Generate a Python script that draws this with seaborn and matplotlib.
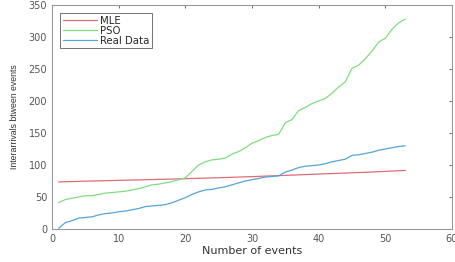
import pandas as pd
import matplotlib
matplotlib.use('Agg')
import matplotlib.pyplot as plt
import seaborn as sns

# values
events = list(range(1, 54))
mle = [73.5, 73.8, 74.1, 74.4, 74.7, 75.0, 75.2, 75.5, 75.7, 76.0,
       76.2, 76.5, 76.7, 77.0, 77.2, 77.5, 77.7, 78.0, 78.3, 78.6,
       78.9, 79.2, 79.5, 79.8, 80.1, 80.4, 80.8, 81.1, 81.5, 81.8,
       82.2, 82.6, 83.0, 83.4, 83.8, 84.2, 84.6, 85.0, 85.4, 85.8,
       86.2, 86.6, 87.0, 87.4, 87.8, 88.2, 88.6, 89.0, 89.5, 90.0,
       90.5, 91.0, 91.5]
pso = [41, 46, 48, 50, 52, 52, 54, 56, 57, 58,
       59, 61, 63, 66, 69, 70, 72, 74, 77, 80,
       90, 100, 105, 108, 109, 111, 117, 121, 127, 134,
       138, 143, 146, 148, 166, 171, 185, 190, 196, 200,
       204, 212, 222, 230, 251, 256, 266, 278, 292, 298,
       312, 322, 328]
real = [1, 10, 13, 17, 18, 19, 22, 24, 25, 27,
        28, 30, 32, 35, 36, 37, 38, 41, 45, 49,
        54, 58, 61, 62, 64, 66, 69, 72, 75, 77,
        79, 81, 82, 83, 89, 92, 96, 98, 99, 100,
        102, 105, 107, 109, 115, 116, 118, 120, 123, 125,
        127, 129, 130]

df = pd.DataFrame({'event': events * 3,
                   'value': mle + pso + real,
                   'series': ['MLE'] * 53 + ['PSO'] * 53 + ['Real Data'] * 53})

sns.set_style('white')
plt.rcParams['font.family'] = ['DejaVu Sans']

fig = plt.figure(figsize=(4.55, 2.62), dpi=100)
ax = fig.add_axes([0.1143, 0.126, 0.879, 0.855])

palette = {'MLE': '#dc6e78', 'PSO': '#80dc80', 'Real Data': '#55a5d8'}
sns.lineplot(data=df, x='event', y='value', hue='series', palette=palette,
             linewidth=0.9, ax=ax)

ax.set_xlim(0, 60)
ax.set_ylim(0, 350)
ax.set_xticks(range(0, 61, 10))
ax.set_yticks(range(0, 351, 50))
ax.set_xlabel('Number of events', fontsize=8, color='#333333', labelpad=1.5)
ax.set_ylabel('Interarrivals btween events', fontsize=6.3, color='#333333',
              family='Liberation Sans', labelpad=7)
ax.tick_params(direction='in', length=2.5, width=0.6, labelsize=7,
               colors='#555555', top=True, right=True, pad=3.5)
for s in ax.spines.values():
    s.set_color('#999999')
    s.set_linewidth(0.8)

leg = ax.legend(loc='upper left', bbox_to_anchor=(60 / 455, 1 - 13 / 262),
                bbox_transform=fig.transFigure, fontsize=7.3,
                frameon=True, fancybox=False, handlelength=3.4,
                borderpad=0.25, labelspacing=0.0, handletextpad=0.3,
                borderaxespad=0)
leg.get_frame().set_edgecolor('#333333')
leg.get_frame().set_linewidth(0.6)

fig.savefig('out.png', dpi=100)
